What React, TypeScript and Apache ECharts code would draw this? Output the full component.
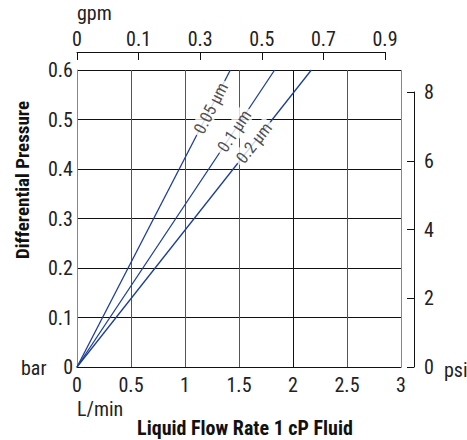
import React, { useEffect, useRef } from "react";
import * as echarts from "echarts";

// ---- data ----
const ratings = ["0.05 µm", "0.1 µm", "0.2 µm"];
const flowStart = [0, 0, 0]; // L/min at 0 bar
const flowEnd = [1.42, 1.83, 2.17]; // L/min at 0.6 bar
const dpStart = 0;
const dpEnd = 0.6; // bar
const labelFraction = [0.872, 0.795, 0.755]; // where along each line the label sits
const gpmTicks = ["0", "0.1", "0.3", "0.5", "0.7", "0.9"];
const psiMax = 8;
const psiInterval = 2;
const barMax = 0.6;
const barInterval = 0.1;
const lminMax = 3;
const lminInterval = 0.5;

const FONT = "'Liberation Sans Narrow', 'Arial Narrow', 'Roboto Condensed', sans-serif";
const TXT = "#222";
const BLUE = "#1c3e96";

export default function App() {
  const ref = useRef<HTMLDivElement>(null);

  useEffect(() => {
    if (!ref.current) return;
    const chart = echarts.init(ref.current, undefined, { renderer: "svg" });

    const lineSeries = ratings.map((name, i) => ({
      type: "line",
      name,
      xAxisIndex: 0,
      yAxisIndex: 0,
      data: [
        [flowStart[i], dpStart],
        [flowEnd[i], dpEnd],
      ],
      showSymbol: false,
      symbol: "none",
      lineStyle: { color: BLUE, width: 1.3 },
      z: 3,
    }));

    const labelSeries = (angles: number[]) =>
      ratings.map((name, i) => ({
        type: "scatter",
        name: name + " label",
        xAxisIndex: 0,
        yAxisIndex: 0,
        symbolSize: 0,
        z: 5,
        data: [
          [
            flowStart[i] + (flowEnd[i] - flowStart[i]) * labelFraction[i],
            dpStart + (dpEnd - dpStart) * labelFraction[i],
          ],
        ],
        label: {
          show: true,
          position: "inside",
          formatter: name,
          rotate: angles[i],
          color: TXT,
          fontFamily: FONT,
          fontSize: 17,
          backgroundColor: "#fff",
          padding: [0, 3],
        },
      }));

    const option: any = {
      animation: false,
      backgroundColor: "#fff",
      textStyle: { fontFamily: FONT },
      grid: [
        { left: 77, right: 66, top: 70, bottom: 73 },
        { left: 77, width: 308, top: 52, height: 10 },
        { left: 380, right: 53, top: 92, bottom: 73 },
      ],
      xAxis: [
        {
          type: "value",
          gridIndex: 0,
          min: 0,
          max: lminMax,
          interval: lminInterval,
          axisLine: { show: true, onZero: false, lineStyle: { color: "#111", width: 1 } },
          axisTick: { show: false },
          axisLabel: { color: TXT, fontFamily: FONT, fontSize: 20, margin: 8 },
          splitLine: {
            show: true,
            lineStyle: {
              color: ["#888", "#555", "#555", "#555", "#111", "#555", "#888"],
              width: 1,
            },
          },
        },
        {
          type: "category",
          gridIndex: 1,
          position: "top",
          boundaryGap: false,
          data: gpmTicks,
          axisLine: { show: true, onZero: false, lineStyle: { color: "#111", width: 1 } },
          axisTick: { show: true, inside: true, length: 8, lineStyle: { color: "#111" } },
          axisLabel: { color: TXT, fontFamily: FONT, fontSize: 20, margin: 3, interval: 0 },
          splitLine: { show: false },
        },
        {
          type: "value",
          gridIndex: 2,
          show: false,
        },
      ],
      yAxis: [
        {
          type: "value",
          gridIndex: 0,
          min: 0,
          max: barMax,
          interval: barInterval,
          axisLine: { show: true, onZero: false, lineStyle: { color: "#888", width: 1 } },
          axisTick: { show: false },
          axisLabel: { color: TXT, fontFamily: FONT, fontSize: 20, margin: 4 },
          splitLine: { show: true, lineStyle: { color: "#111", width: 1 } },
        },
        {
          type: "value",
          gridIndex: 1,
          show: false,
        },
        {
          type: "value",
          gridIndex: 2,
          position: "right",
          min: 0,
          max: psiMax,
          interval: psiInterval,
          axisLine: { show: true, onZero: false, lineStyle: { color: "#111", width: 1 } },
          axisTick: { show: true, inside: true, length: 7, lineStyle: { color: "#111" } },
          axisLabel: { color: TXT, fontFamily: FONT, fontSize: 20, margin: 10 },
          splitLine: { show: false },
        },
      ],
      graphic: [
        { type: "text", left: 77, top: 3, style: { text: "gpm", font: `20px ${FONT}`, fill: TXT } },
        { type: "text", left: 21, top: 358, style: { text: "bar", font: `20px ${FONT}`, fill: TXT } },
        { type: "text", left: 444, top: 360, style: { text: "psi", font: `20px ${FONT}`, fill: TXT } },
        { type: "text", left: 77, top: 399, style: { text: "L/min", font: `20px ${FONT}`, fill: TXT } },
        {
          type: "text",
          x: 245,
          y: 428,
          style: {
            text: "Liquid Flow Rate 1 cP Fluid",
            font: `bold 20px ${FONT}`,
            fill: "#111",
            align: "center",
            verticalAlign: "middle",
          },
        },
        {
          type: "text",
          x: 22,
          y: 180,
          rotation: Math.PI / 2,
          style: {
            text: "Differential Pressure",
            font: `bold 19px ${FONT}`,
            fill: "#111",
            align: "center",
            verticalAlign: "middle",
          },
        },
      ],
      series: [...lineSeries, ...labelSeries([0, 0, 0])],
    };

    chart.setOption(option);

    const angles = ratings.map((_, i) => {
      const p0 = chart.convertToPixel({ gridIndex: 0 } as any, [flowStart[i], dpStart]) as number[];
      const p1 = chart.convertToPixel({ gridIndex: 0 } as any, [flowEnd[i], dpEnd]) as number[];
      return (Math.atan2(p0[1] - p1[1], p1[0] - p0[0]) * 180) / Math.PI;
    });
    chart.setOption({ series: [...lineSeries, ...labelSeries(angles)] });

    return () => chart.dispose();
  }, []);

  return (
    <div
      ref={ref}
      style={{ position: "fixed", left: 0, top: 0, width: 467, height: 440 }}
    />
  );
}
